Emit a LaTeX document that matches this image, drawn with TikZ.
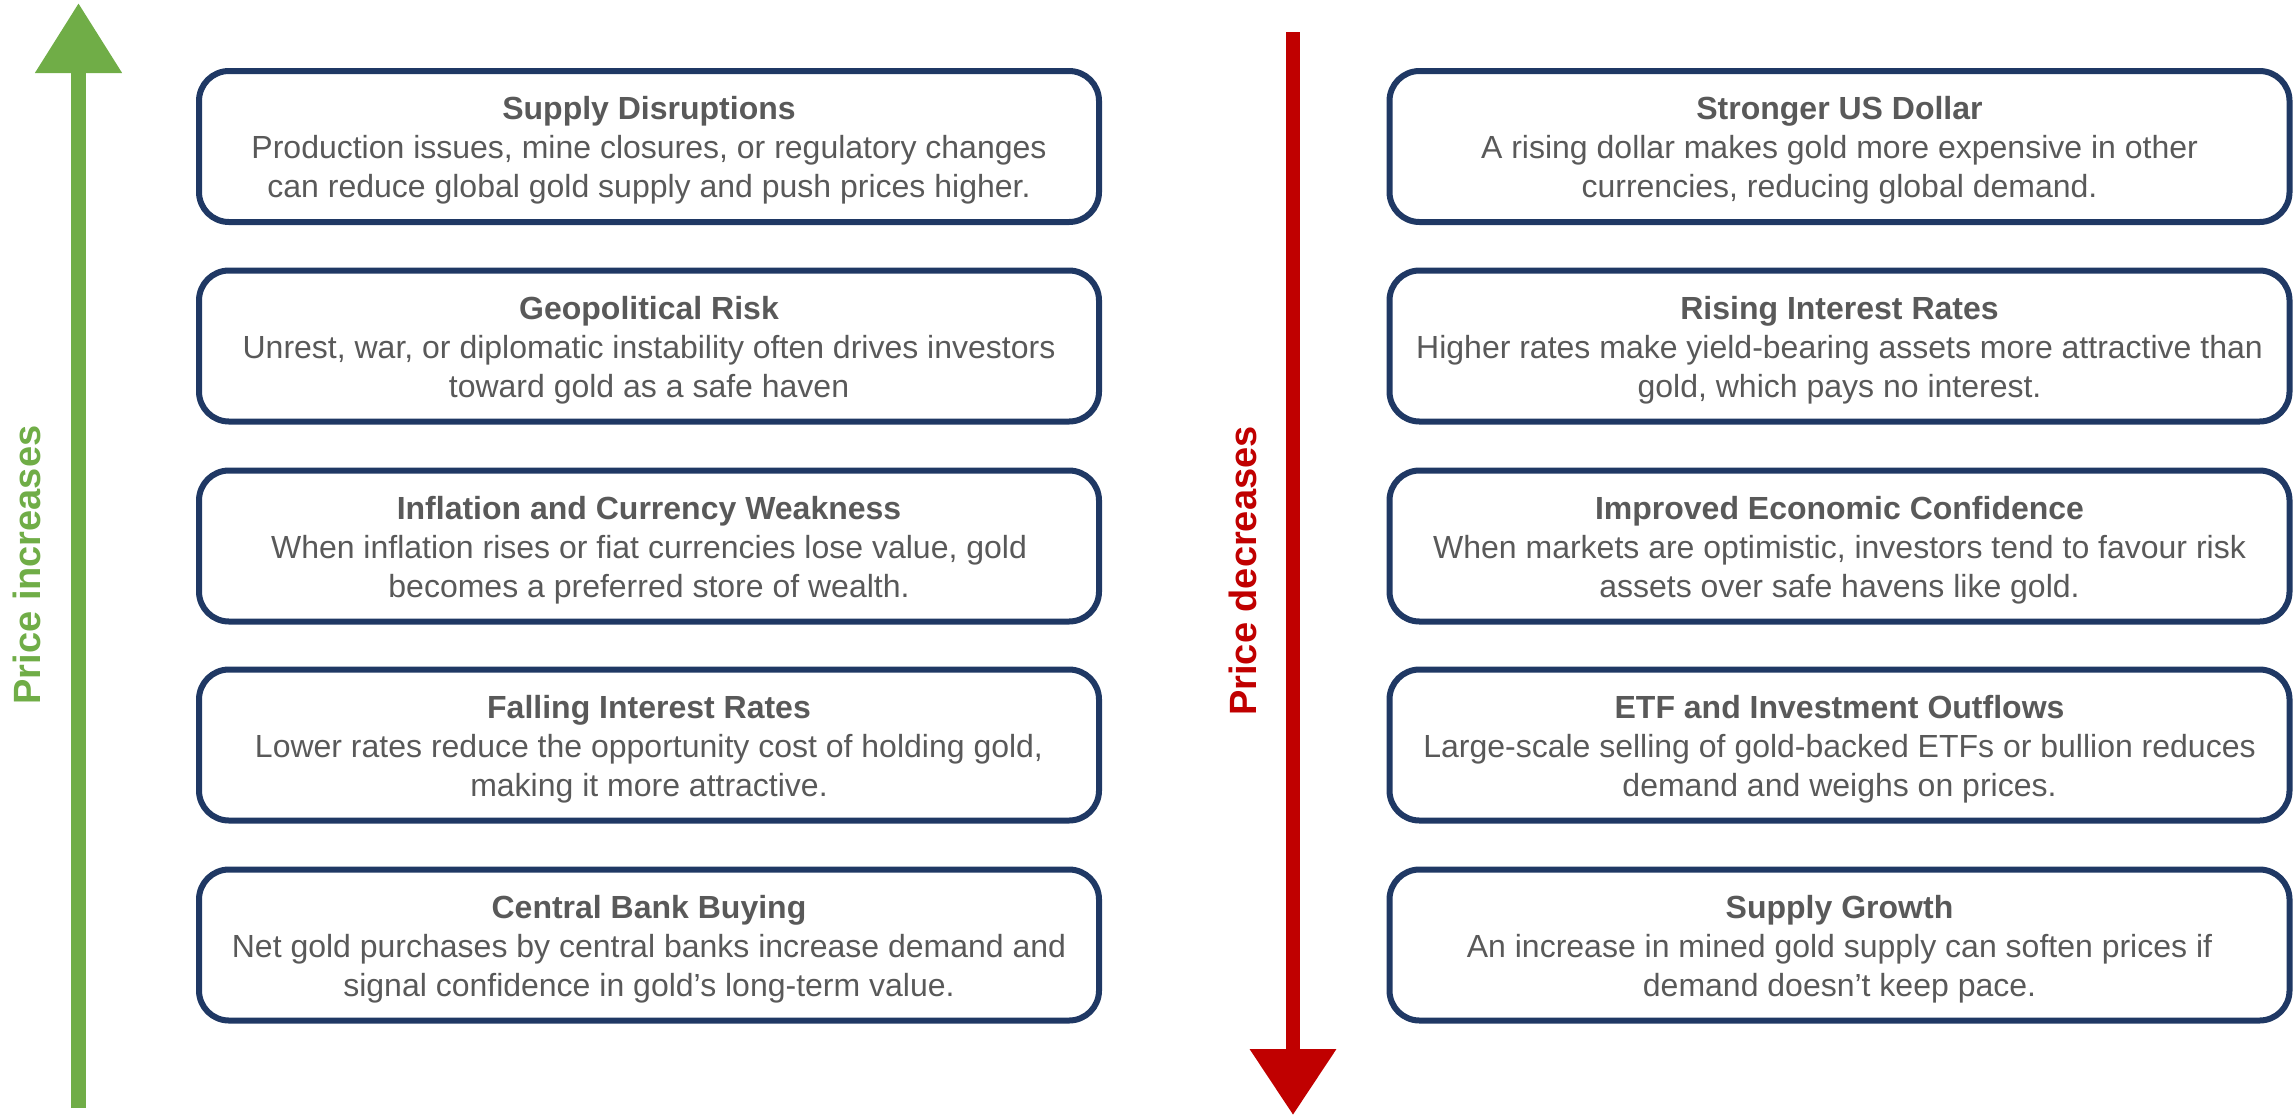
\documentclass[tikz,border=0pt]{standalone}
\usepackage{fontspec}
\setmainfont{Liberation Sans}
\usetikzlibrary{arrows.meta}
\definecolor{navy}{RGB}{31,56,100}
\definecolor{txtgray}{RGB}{89,89,89}
\definecolor{upgreen}{RGB}{112,173,71}
\definecolor{downred}{RGB}{192,0,0}
\newcommand{\toprule}{\rule{0pt}{15.7pt}}
\newcommand{\botrule}{\rule[-3.5pt]{0pt}{3.5pt}}
\begin{document}
\begin{tikzpicture}[x=0.5pt,y=-0.5pt,
  factor/.style={draw=navy, line width=3pt, rounded corners=15pt,
    minimum width=450pt, minimum height=75.5pt, align=center,
    text=txtgray, font=\fontsize{16}{19.5}\selectfont, inner sep=0pt},
  sidelabel/.style={rotate=90, font=\bfseries\fontsize{19}{22}\selectfont, inner sep=0pt},
  uparrow/.style={draw=upgreen, line width=7.5pt, -{Triangle[length=35pt,width=41.5pt]}},
  downarrow/.style={draw=downred, line width=7pt, -{Triangle[length=33pt,width=41.5pt]}}]
\useasboundingbox (0,0) rectangle (2295,1115);

% arrows
\coordinate (gbot) at (78.5,1108);
\coordinate (gtop) at (78.5,3);
\coordinate (rtop) at (1293,32);
\coordinate (rbot) at (1293,1115);
\draw[uparrow] (gbot) -- (gtop);
\draw[downarrow] (rtop) -- (rbot);

\node[sidelabel, text=upgreen] (lup) at (27,565) {Price increases};
\node[sidelabel, text=downred] (ldown) at (1243,571) {Price decreases};

% left column
\node[factor] (l1) at (649,146.5) {\toprule\textbf{Supply Disruptions}\\Production issues, mine closures, or regulatory changes\\can reduce global gold supply and push prices higher.\botrule};
\node[factor] (l2) at (649,346) {\toprule\textbf{Geopolitical Risk}\\Unrest, war, or diplomatic instability often drives investors\\toward gold as a safe haven\botrule};
\node[factor] (l3) at (649,546) {\toprule\textbf{Inflation and Currency Weakness}\\When inflation rises or fiat currencies lose value, gold\\becomes a preferred store of wealth.\botrule};
\node[factor] (l4) at (649,745) {\toprule\textbf{Falling Interest Rates}\\Lower rates reduce the opportunity cost of holding gold,\\making it more attractive.\botrule};
\node[factor] (l5) at (649,945) {\toprule\textbf{Central Bank Buying}\\Net gold purchases by central banks increase demand and\\signal confidence in gold’s long-term value.\botrule};

% right column
\node[factor] (r1) at (1839.5,146.5) {\toprule\textbf{Stronger US Dollar}\\A rising dollar makes gold more expensive in other\\currencies, reducing global demand.\botrule};
\node[factor] (r2) at (1839.5,346) {\toprule\textbf{Rising Interest Rates}\\Higher rates make yield-bearing assets more attractive than\\gold, which pays no interest.\botrule};
\node[factor] (r3) at (1839.5,546) {\toprule\textbf{Improved Economic Confidence}\\When markets are optimistic, investors tend to favour risk\\assets over safe havens like gold.\botrule};
\node[factor] (r4) at (1839.5,745) {\toprule\textbf{ETF and Investment Outflows}\\Large-scale selling of gold-backed ETFs or bullion reduces\\demand and weighs on prices.\botrule};
\node[factor] (r5) at (1839.5,945) {\toprule\textbf{Supply Growth}\\An increase in mined gold supply can soften prices if\\demand doesn’t keep pace.\botrule};
\end{tikzpicture}
\end{document}
